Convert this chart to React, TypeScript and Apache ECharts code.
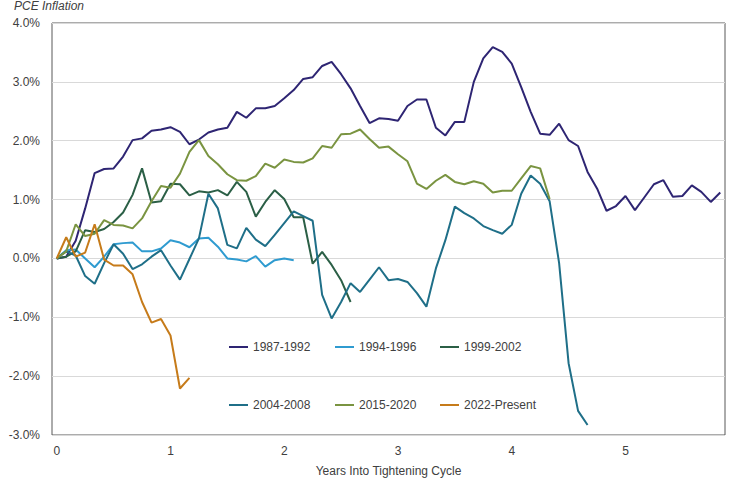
import React, { useEffect, useRef } from "react";
import * as echarts from "echarts";

// months 0..70 into the tightening cycle
const months: number[] = Array.from({ length: 71 }, (_, i) => i);

const s1987: number[] = [
  0, 0.03, 0.3, 0.85, 1.45, 1.52, 1.53, 1.73, 2.01, 2.04,
  2.17, 2.19, 2.23, 2.15, 1.94, 2.02, 2.14, 2.19, 2.22, 2.49,
  2.39, 2.55, 2.55, 2.59, 2.72, 2.86, 3.05, 3.08, 3.27, 3.34,
  3.13, 2.89, 2.59, 2.3, 2.38, 2.37, 2.34, 2.59, 2.7, 2.7,
  2.22, 2.09, 2.32, 2.32, 3.0, 3.4, 3.59, 3.51, 3.31, 2.91,
  2.49, 2.12, 2.1, 2.29, 2.01, 1.91, 1.47, 1.19, 0.81, 0.89,
  1.06, 0.82, 1.04, 1.26, 1.33, 1.05, 1.06, 1.24, 1.13, 0.96, 1.12,
];
const s1994: number[] = [
  0, 0.14, 0.15, 0.0, -0.15, 0.03, 0.24, 0.26, 0.27, 0.12,
  0.12, 0.17, 0.31, 0.27, 0.19, 0.34, 0.35, 0.2, 0.0, -0.02,
  -0.05, 0.04, -0.14, -0.03, 0.0, -0.03,
];
const s1999: number[] = [
  0, 0.03, 0.12, 0.48, 0.45, 0.5, 0.62, 0.78, 1.08, 1.53,
  0.95, 0.97, 1.27, 1.26, 1.07, 1.14, 1.12, 1.16, 1.07, 1.3,
  1.13, 0.71, 0.96, 1.16, 1.01, 0.7, 0.7, -0.09, 0.11, -0.11,
  -0.37, -0.74,
];
const s2004: number[] = [
  0, 0.12, 0.05, -0.3, -0.43, -0.08, 0.24, 0.08, -0.18, -0.1,
  0.03, 0.14, -0.12, -0.36, -0.01, 0.34, 1.1, 0.85, 0.23, 0.17,
  0.52, 0.32, 0.21, 0.4, 0.6, 0.8, 0.72, 0.64, -0.62, -1.02,
  -0.74, -0.42, -0.57, -0.36, -0.15, -0.37, -0.35, -0.4, -0.59, -0.82,
  -0.17, 0.31, 0.88, 0.77, 0.68, 0.55, 0.48, 0.42, 0.57, 1.1,
  1.41, 1.27, 0.97, -0.08, -1.78, -2.59, -2.83,
];
const s2015: number[] = [
  0, 0.12, 0.58, 0.38, 0.42, 0.65, 0.57, 0.56, 0.51, 0.68,
  0.97, 1.23, 1.2, 1.44, 1.81, 2.01, 1.74, 1.6, 1.43, 1.33,
  1.32, 1.4, 1.61, 1.54, 1.68, 1.64, 1.63, 1.7, 1.91, 1.88,
  2.11, 2.12, 2.19, 2.03, 1.88, 1.9, 1.77, 1.65, 1.27, 1.18,
  1.32, 1.42, 1.3, 1.26, 1.31, 1.27, 1.12, 1.15, 1.15, 1.36,
  1.57, 1.53, 1.01,
];
const s2022: number[] = [
  0, 0.36, 0.03, 0.1, 0.58, -0.02, -0.12, -0.12, -0.27, -0.74,
  -1.09, -1.03, -1.31, -2.21, -2.03,
];

const seriesNames: string[] = [
  "1987-1992", "1994-1996", "1999-2002",
  "2004-2008", "2015-2020", "2022-Present",
];
const seriesData: number[][] = [s1987, s1994, s1999, s2004, s2015, s2022];
const seriesColors: string[] = [
  "#2e2573", "#2f9bd0", "#2b5f46", "#1f6f88", "#7a9441", "#c67b1a",
];

const FONT = "Liberation Sans";

export default function App() {
  const ref = useRef<HTMLDivElement>(null);
  useEffect(() => {
    document.body.style.margin = "0";
    if (!ref.current) return;
    const chart = echarts.init(ref.current, undefined, { renderer: "svg" });
    const legendLefts = [224, 330, 435, 224, 330, 435];
    const legendTops = [336, 336, 336, 394, 394, 394];
    chart.setOption({
      animation: false,
      textStyle: { fontFamily: FONT },
      title: {
        text: "PCE Inflation",
        left: 14,
        top: 0,
        padding: 0,
        textStyle: {
          fontFamily: FONT,
          fontSize: 12,
          fontStyle: "italic",
          fontWeight: "normal",
          color: "#404040",
        },
      },
      legend: seriesNames.map((n, i) => ({
        data: [n],
        left: legendLefts[i],
        top: legendTops[i],
        icon: "rect",
        itemWidth: 19,
        itemHeight: 2,
        textStyle: { fontFamily: FONT, fontSize: 12, color: "#404040" },
        selectedMode: false,
      })),
      grid: {
        left: 52,
        top: 23,
        right: 6,
        bottom: 47,
        show: true,
        borderColor: "#595959",
        borderWidth: 1,
      },
      xAxis: {
        type: "category",
        data: months,
        boundaryGap: true,
        axisLine: { show: false },
        axisTick: { show: false },
        axisLabel: {
          interval: 11,
          margin: 10,
          fontSize: 12,
          color: "#404040",
          fontFamily: FONT,
          formatter: (v: string) => String(Number(v) / 12),
        },
        name: "Years Into Tightening Cycle",
        nameLocation: "middle",
        nameGap: 30,
        nameTextStyle: { fontSize: 12, color: "#404040", fontFamily: FONT },
        splitLine: { show: false },
      },
      yAxis: {
        type: "value",
        min: -3,
        max: 4,
        interval: 1,
        axisLine: { show: false },
        axisTick: { show: false },
        axisLabel: {
          margin: 12,
          fontSize: 12,
          color: "#404040",
          fontFamily: FONT,
          formatter: (v: number) => v.toFixed(1) + "%",
        },
        splitLine: { lineStyle: { color: "#d9d9d9", width: 1 } },
      },
      series: seriesNames.map((n, i) => ({
        name: n,
        type: "line",
        data: seriesData[i],
        showSymbol: false,
        symbol: "none",
        color: seriesColors[i],
        lineStyle: { width: 2, color: seriesColors[i] },
      })),
    });
    return () => chart.dispose();
  }, []);
  return <div ref={ref} style={{ width: 731, height: 482 }} />;
}
